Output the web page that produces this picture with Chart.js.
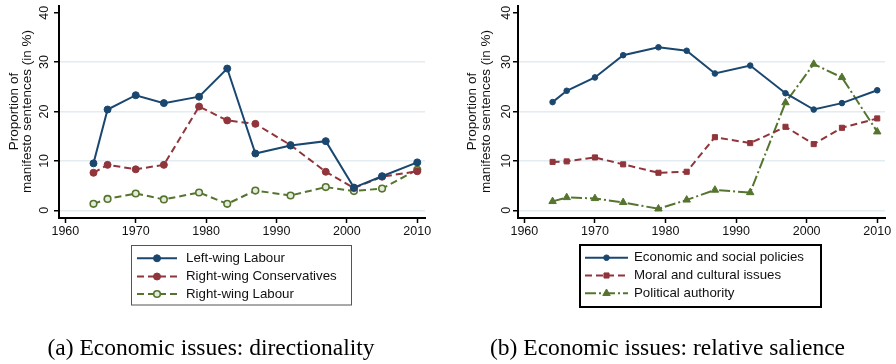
<!DOCTYPE html>
<html>
<head>
<meta charset="utf-8">
<script src="https://cdn.jsdelivr.net/npm/chart.js@4.4.1/dist/chart.umd.min.js"></script>
<style>
body{margin:0;background:#fff;width:896px;height:364px;position:relative;overflow:hidden}
canvas{position:absolute;left:0;top:0}
.cap{position:absolute;top:336px;font:23.5px "Liberation Serif",serif;line-height:23.5px;white-space:nowrap;transform:translateX(-50%);color:#000}
</style>
</head>
<body>
<canvas id="chartA" width="896" height="364"></canvas>
<canvas id="chartB" width="896" height="364"></canvas>
<div class="cap" style="left:211px">(a) Economic issues: directionality</div>
<div class="cap" style="left:667.5px">(b) Economic issues: relative salience</div>
<script>
// election years (x axis)
const years = [1964, 1966, 1970, 1974, 1979, 1983, 1987, 1992, 1997, 2001, 2005, 2010];

// (a) directionality
const leftLabour = [9.5, 20.4, 23.3, 21.7, 23.0, 28.7, 11.5, 13.1, 14.0, 4.6, 6.9, 9.7];
const rightConservatives = [7.6, 9.2, 8.3, 9.2, 21.0, 18.2, 17.5, 13.2, 7.8, 4.5, 6.8, 7.9];
const rightLabour = [1.3, 2.3, 3.4, 2.2, 3.6, 1.3, 4.0, 3.0, 4.7, 3.9, 4.4, 8.2];

// (b) relative salience
const economicSocial = [21.9, 24.2, 26.9, 31.4, 33.0, 32.3, 27.7, 29.3, 23.7, 20.4, 21.7, 24.3];
const moralCultural = [9.8, 9.9, 10.7, 9.3, 7.6, 7.8, 14.8, 13.6, 16.9, 13.4, 16.7, 18.6];
const politicalAuthority = [1.8, 2.6, 2.4, 1.6, 0.3, 2.1, 4.1, 3.6, 21.8, 29.6, 26.9, 15.9];

const yTitle = ['Proportion of', 'manifesto sentences (in %)'];

const NAVY = '#1a476f', MAROON = '#90353b', GREEN = '#55752f';
const AXIS_FONT = '"Liberation Sans", Arial, sans-serif';

function pts(vals) {
    return years.map((y, i) => ({x: y, y: vals[i]}));
}

// small text helper
function txt(ctx, s, x, y, o) {
    ctx.save();
    ctx.translate(x, y);
    if (o.rot) ctx.rotate(o.rot);
    ctx.font = o.font;
    ctx.textAlign = o.align || 'center';
    ctx.textBaseline = 'middle';
    ctx.fillStyle = o.color || '#111';
    ctx.fillText(s, 0, 0);
    ctx.restore();
}

function makeChart(id, datasets, cfg) {
    const textPlugin = {
        id: 'textPlugin',
        afterDraw(chart) {
            const ctx = chart.ctx;
            const xs = chart.scales.x, ys = chart.scales.y;
            // y tick labels (rotated)
            ys.ticks.forEach(t => {
                txt(ctx, String(t.value), cfg.yLabelX, ys.getPixelForValue(t.value),
                    {font: '12.5px ' + AXIS_FONT, rot: -Math.PI / 2});
            });
            // x tick labels
            xs.ticks.forEach(t => {
                txt(ctx, String(t.value), xs.getPixelForValue(t.value), 232,
                    {font: '12.5px ' + AXIS_FONT});
            });
            // y axis title
            const mid = (ys.getPixelForValue(0) + ys.getPixelForValue(40)) / 2;
            txt(ctx, yTitle[0], cfg.titleX[0], mid, {font: '13.5px ' + AXIS_FONT, rot: -Math.PI / 2});
            txt(ctx, yTitle[1], cfg.titleX[1], mid, {font: '13.5px ' + AXIS_FONT, rot: -Math.PI / 2});

            // legend box
            const lg = cfg.legend;
            ctx.save();
            ctx.lineWidth = lg.bw;
            ctx.strokeStyle = lg.bc;
            ctx.strokeRect(lg.x, lg.y, lg.w, lg.h);
            chart.data.datasets.forEach((ds, i) => {
                const y = lg.rows[i];
                ctx.strokeStyle = ds.borderColor;
                ctx.lineWidth = 2;
                ctx.setLineDash(ds.borderDash || []);
                ctx.beginPath();
                ctx.moveTo(lg.s0, y);
                ctx.lineTo(lg.s1, y);
                ctx.stroke();
                ctx.setLineDash([]);
                ctx.fillStyle = ds.pointBackgroundColor;
                ctx.strokeStyle = ds.borderColor;
                ctx.lineWidth = ds.pointBorderWidth;
                Chart.helpers.drawPoint(ctx, {
                    pointStyle: ds.pointStyle, radius: ds.pointRadius, rotation: 0,
                    borderWidth: ds.pointBorderWidth
                }, (lg.s0 + lg.s1) / 2, y);
                txt(ctx, ds.label, lg.tx, y, {font: '13.3px ' + AXIS_FONT, align: 'left'});
            });
            ctx.restore();
        }
    };

    return new Chart(document.getElementById(id), {
        type: 'line',
        data: {datasets: datasets},
        options: {
            responsive: false,
            animation: false,
            layout: {padding: {top: 6, left: 0, right: cfg.padRight, bottom: 0}},
            plugins: {legend: {display: false}, tooltip: {enabled: false}},
            scales: {
                x: {
                    type: 'linear', min: 1959.1, max: 2011.1,
                    afterFit: s => { s.height = 146; },
                    ticks: {display: false, stepSize: 10, includeBounds: false},
                    grid: {drawOnChartArea: false, tickLength: 5, tickColor: '#000', tickWidth: 1.5},
                    border: {color: '#000', width: 2}
                },
                y: {
                    min: -1.56, max: 41.36,
                    afterFit: s => { s.width = cfg.yWidth; },
                    ticks: {display: false, stepSize: 10, includeBounds: false},
                    grid: {
                        color: c => (c.tick && c.tick.value === 40) ? 'rgba(0,0,0,0)' : '#e3ecf0',
                        lineWidth: 1.5, tickLength: 5, tickColor: '#000', tickWidth: 1.5
                    },
                    border: {color: '#000', width: 2}
                }
            }
        },
        plugins: [textPlugin]
    });
}

makeChart('chartA', [
    {label: 'Left-wing Labour', data: pts(leftLabour), borderColor: NAVY, borderWidth: 2,
     pointStyle: 'circle', pointRadius: 3.5, pointBackgroundColor: NAVY, pointBorderColor: NAVY, pointBorderWidth: 1},
    {label: 'Right-wing Conservatives', data: pts(rightConservatives), borderColor: MAROON, borderWidth: 2, borderDash: [7, 4],
     pointStyle: 'circle', pointRadius: 3.5, pointBackgroundColor: MAROON, pointBorderColor: MAROON, pointBorderWidth: 1},
    {label: 'Right-wing Labour', data: pts(rightLabour), borderColor: GREEN, borderWidth: 2, borderDash: [7, 4],
     pointStyle: 'circle', pointRadius: 3.3, pointBackgroundColor: '#e6ecdd', pointBorderColor: GREEN, pointBorderWidth: 1.6}
], {
    yWidth: 59, padRight: 471, yLabelX: 45, titleX: [14, 27.5],
    legend: {x: 131.5, y: 245.5, w: 220, h: 59.5, bw: 1, bc: '#555', rows: [258.3, 276.5, 294], s0: 137, s1: 177, tx: 186}
});

makeChart('chartB', [
    {label: 'Economic and social policies', data: pts(economicSocial), borderColor: NAVY, borderWidth: 2,
     pointStyle: 'circle', pointRadius: 2.8, pointBackgroundColor: NAVY, pointBorderColor: NAVY, pointBorderWidth: 1},
    {label: 'Moral and cultural issues', data: pts(moralCultural), borderColor: MAROON, borderWidth: 2, borderDash: [7, 4],
     pointStyle: 'rect', pointRadius: 3.6, pointBackgroundColor: MAROON, pointBorderColor: MAROON, pointBorderWidth: 1},
    {label: 'Political authority', data: pts(politicalAuthority), borderColor: GREEN, borderWidth: 2, borderDash: [11, 3, 2, 3],
     pointStyle: 'triangle', pointRadius: 4.3, pointBackgroundColor: GREEN, pointBorderColor: GREEN, pointBorderWidth: 1}
], {
    yWidth: 518, padRight: 11, yLabelX: 507, titleX: [472, 486],
    legend: {x: 580, y: 245, w: 241, h: 62, bw: 2, bc: '#000', rows: [257.7, 275.5, 293.3], s0: 585, s1: 628, tx: 634}
});
</script>
</body>
</html>
